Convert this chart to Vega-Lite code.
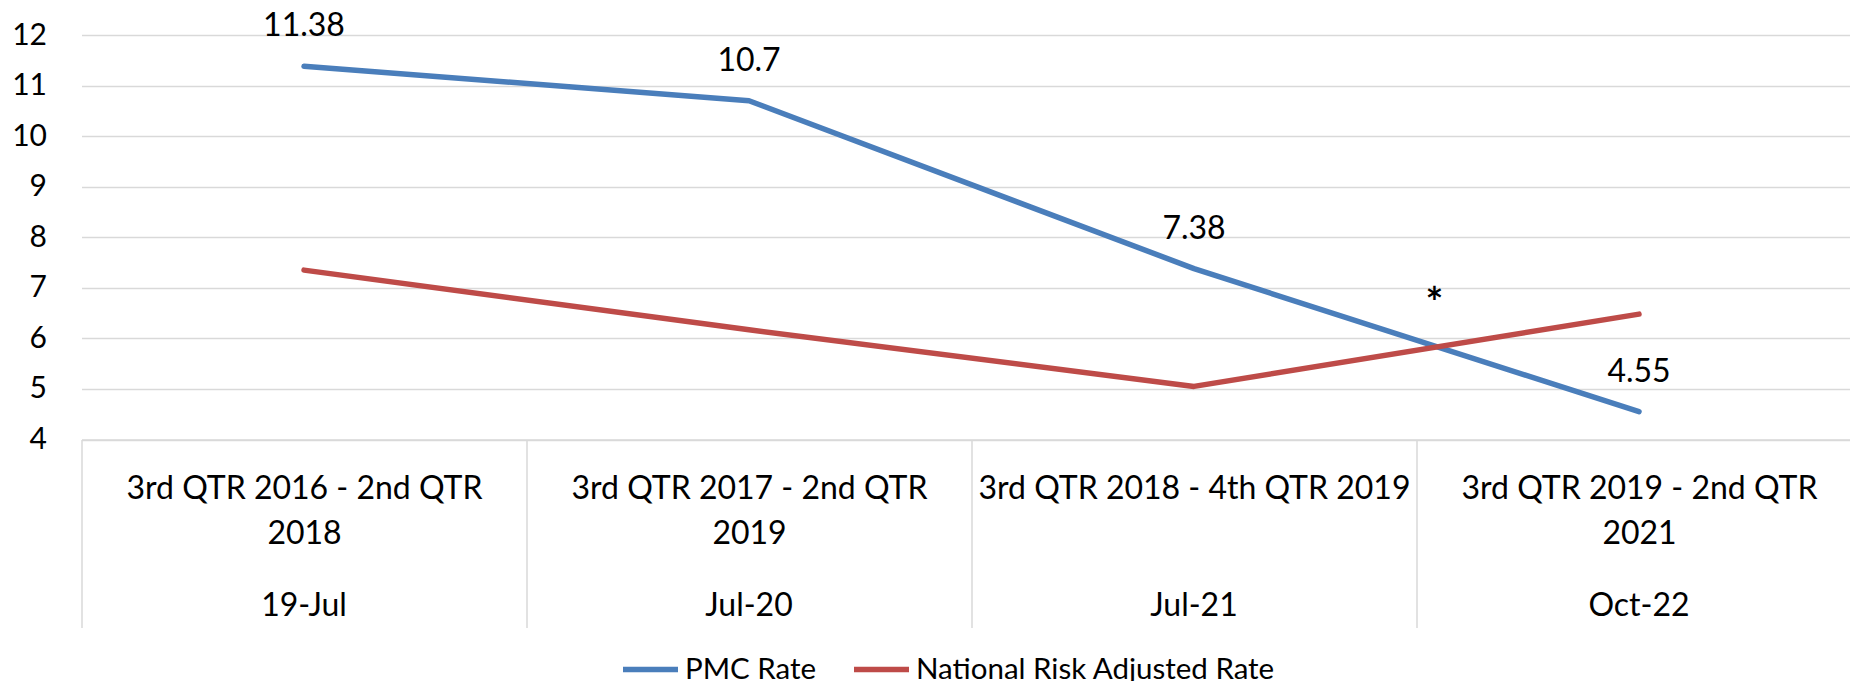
{
  "$schema": "https://vega.github.io/schema/vega-lite/v6.json",
  "width": 1780,
  "height": 404.5,
  "autosize": {"type": "none"},
  "padding": {"left": 81.5, "top": 35, "right": -11.5, "bottom": 241.5},
  "background": "white",
  "config": {"view": {"stroke": null}, "font": "Lato", "text": {"font": "Lato"}},
  "datasets": {
    "rates": [
      {"label": "3rd QTR 2016 - 2nd QTR|2018|19-Jul", "series": "PMC Rate", "rate": 11.38},
      {"label": "3rd QTR 2017 - 2nd QTR|2019|Jul-20", "series": "PMC Rate", "rate": 10.7},
      {"label": "3rd QTR 2018 - 4th QTR 2019|Jul-21", "series": "PMC Rate", "rate": 7.38},
      {"label": "3rd QTR 2019 - 2nd QTR|2021|Oct-22", "series": "PMC Rate", "rate": 4.55},
      {"label": "3rd QTR 2016 - 2nd QTR|2018|19-Jul", "series": "National Risk Adjusted Rate", "rate": 7.35},
      {"label": "3rd QTR 2017 - 2nd QTR|2019|Jul-20", "series": "National Risk Adjusted Rate", "rate": 6.17},
      {"label": "3rd QTR 2018 - 4th QTR 2019|Jul-21", "series": "National Risk Adjusted Rate", "rate": 5.05},
      {"label": "3rd QTR 2019 - 2nd QTR|2021|Oct-22", "series": "National Risk Adjusted Rate", "rate": 6.48}
    ],
    "notes": [
      {"label": "3rd QTR 2019 - 2nd QTR|2021|Oct-22", "note": "*", "rate": 6.9}
    ]
  },
  "resolve": {"axis": {"x": "independent"}},
  "layer": [
    {
      "data": {"name": "rates"},
      "mark": {"type": "line", "strokeWidth": 5.5, "strokeCap": "round", "strokeJoin": "round"},
      "encoding": {
        "x": {
          "field": "label", "type": "nominal", "sort": null,
          "scale": {"type": "band", "paddingInner": 0, "paddingOuter": 0},
          "axis": {
            "orient": "bottom", "title": null, "domain": true, "domainColor": "#d9d9d9", "domainWidth": 1.5,
            "ticks": true, "tickBand": "extent", "tickSize": 188, "tickColor": "#d9d9d9", "tickWidth": 1.5,
            "grid": false, "labelFontSize": 32, "labelColor": "#000000", "labelFont": "Lato",
            "labelExpr": "isValid(datum.value) ? slice(split(datum.value, '|'), 0, -1) : ''", "labelLineHeight": 45, "labelBaseline": "middle",
            "labelPadding": -139, "labelOverlap": false, "labelBound": false, "labelFlush": false,
            "labelAngle": 0, "labelLimit": 0
          }
        },
        "y": {
          "field": "rate", "type": "quantitative",
          "scale": {"domain": [4, 12], "nice": false, "zero": false},
          "axis": {
            "title": null, "domain": false, "ticks": false, "grid": true, "gridColor": "#d9d9d9", "gridWidth": 1.5,
            "values": [4, 5, 6, 7, 8, 9, 10, 11, 12], "labelFontSize": 30, "labelColor": "#000000",
            "labelPadding": 35, "labelFont": "Lato"
          }
        },
        "color": {
          "field": "series", "type": "nominal",
          "scale": {"domain": ["PMC Rate", "National Risk Adjusted Rate"], "range": ["#4a7ebb", "#be4b48"]},
          "legend": {
            "title": null, "orient": "none", "legendX": 538.5, "legendY": 604, "direction": "horizontal",
            "symbolType": "stroke", "symbolSize": 3025, "symbolStrokeWidth": 5.5,
            "labelFontSize": 29.5, "labelFont": "Lato", "labelColor": "#000000", "labelOffset": 4,
            "columnPadding": 26, "padding": 0, "labelLimit": 0
          }
        }
      }
    },
    {
      "data": {"name": "rates"},
      "transform": [{"filter": "datum.series === 'PMC Rate'"}],
      "mark": {"type": "text", "fontSize": 32, "dy": -40, "baseline": "middle", "color": "#000000"},
      "encoding": {
        "x": {
          "field": "label", "type": "nominal", "sort": null,
          "axis": {
            "orient": "bottom", "title": null, "domain": false, "ticks": false, "grid": false,
            "labelFontSize": 32, "labelColor": "#000000", "labelFont": "Lato",
            "labelExpr": "isValid(datum.value) ? peek(split(datum.value, '|')) : ''", "labelBaseline": "middle",
            "labelPadding": 166, "labelOverlap": false, "labelBound": false, "labelFlush": false,
            "labelAngle": 0, "labelLimit": 0
          }
        },
        "y": {"field": "rate", "type": "quantitative"},
        "text": {"field": "rate", "type": "nominal"}
      }
    },
    {
      "data": {"name": "notes"},
      "mark": {"type": "text", "fontSize": 42, "fontWeight": "bold", "dy": 12, "baseline": "middle", "color": "#000000"},
      "encoding": {
        "x": {"field": "label", "type": "nominal", "sort": null, "bandPosition": 0.04, "axis": null},
        "y": {"field": "rate", "type": "quantitative"},
        "text": {"field": "note", "type": "nominal"}
      }
    }
  ]
}
